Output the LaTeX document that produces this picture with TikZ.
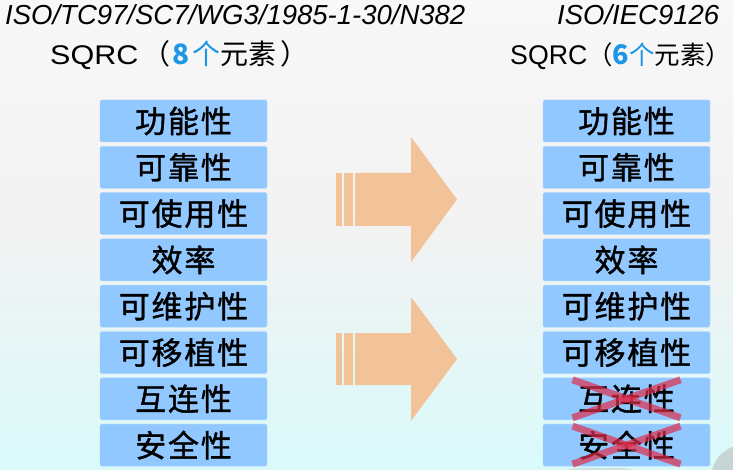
\documentclass[tikz,border=0pt]{standalone}
\usepackage{fontspec}
\setmainfont{Liberation Sans}
\newfontfamily\cjk[LetterSpace=6,FakeBold=1.2]{Noto Sans CJK SC}
\newfontfamily\cjktitle{Noto Sans CJK SC}
\usepackage{graphicx}
\usepackage{xcolor}
\definecolor{bgtop}{RGB}{248,248,248}
\definecolor{bgmid}{RGB}{242,242,242}
\definecolor{bgbot}{RGB}{218,250,250}
\definecolor{boxblue}{RGB}{144,200,255}
\definecolor{boxedge}{RGB}{170,214,255}
\definecolor{arrowfill}{RGB}{242,195,152}
\definecolor{numblue}{RGB}{30,150,230}
\definecolor{crossred}{RGB}{225,45,75}

\begin{document}
\begin{tikzpicture}
[
    x=1pt,y=-1pt,
    mybox/.style={rectangle,rounded corners=1.5pt,minimum width=167pt,minimum height=42pt,inner sep=0pt},
    quality/.style={mybox,draw=boxedge,fill=boxblue,font=\cjk\fontsize{31}{31}\selectfont},
    heading/.style={anchor=base west,inner sep=0pt,font=\fontsize{27.5}{28}\selectfont\itshape},
    count/.style={anchor=base west,inner sep=0pt,font=\fontsize{27}{28}\selectfont},
    cross/.style={crossred,opacity=0.7,line width=7pt},
    blockarrow/.style={fill=arrowfill}
]
\useasboundingbox (0,0) rectangle (733,470);
\shade[top color=bgtop,bottom color=bgbot,middle color=bgmid] (0,0) rectangle (733,470);

% ink hills lower right
\fill[gray!60,opacity=0.5] (712,470) .. controls (714,462) and (719,455) .. (724,452) .. controls (728,449) and (731,447) .. (733,447) -- (733,470) -- cycle;
\fill[gray!50,opacity=0.4] (565,470) .. controls (578,467) and (590,467) .. (600,468.5) .. controls (614,467) and (626,468) .. (634,470) -- cycle;

\node at (5,25) [heading] (oldnorm) {ISO/TC97/SC7/WG3/1985-1-30/N382};
\node at (557,25) [heading] (newnorm) {ISO/IEC9126};
\node at (50,65) [count] (oldcount) {\scalebox{1.13}[1]{SQRC}\hspace{4pt}\cjktitle\fontsize{28}{28}\selectfont（\hspace{2pt}{\color{numblue}\fontsize{28}{28}\selectfont\bfseries\itshape 8}\hspace{3pt}{\color{numblue}个}元素\hspace{4pt}）};
\node at (510,65) [count] (newcount) {\scalebox{0.99}[1]{SQRC}\cjktitle\fontsize{25.5}{26}\selectfont（{\color{numblue}\fontsize{27}{28}\selectfont\bfseries\itshape 6}{\color{numblue}个}元素）};

\node at (183.5,121) [quality] (lfunc) {功能性};
\node at (183.5,167.3) [quality] (lrel) {可靠性};
\node at (183.5,213.6) [quality] (luse) {可使用性};
\node at (183.5,259.9) [quality] (leff) {效率};
\node at (183.5,306.2) [quality] (lmaint) {可维护性};
\node at (183.5,352.5) [quality] (lport) {可移植性};
\node at (183.5,398.8) [quality] (linter) {互连性};
\node at (183.5,445.1) [quality] (lsec) {安全性};

\node at (626.5,121) [quality] (rfunc) {功能性};
\node at (626.5,167.3) [quality] (rrel) {可靠性};
\node at (626.5,213.6) [quality] (ruse) {可使用性};
\node at (626.5,259.9) [quality] (reff) {效率};
\node at (626.5,306.2) [quality] (rmaint) {可维护性};
\node at (626.5,352.5) [quality] (rport) {可移植性};
\node at (626.5,398.8) [quality] (rinter) {互连性};
\node at (626.5,445.1) [quality] (rsec) {安全性};

% block arrows
\fill[blockarrow] (336,173) rectangle (342,226);
\fill[blockarrow] (344,173) rectangle (353,226);
\fill[blockarrow] (355,173) -- (411,173) -- (411,137) -- (457,199.5) -- (411,262) -- (411,226) -- (355,226) -- cycle;
\fill[blockarrow] (336,333) rectangle (342,385);
\fill[blockarrow] (344,333) rectangle (353,385);
\fill[blockarrow] (355,333) -- (411,333) -- (411,297) -- (457,359) -- (411,421) -- (411,385) -- (355,385) -- cycle;

% removed characteristics
\draw[cross] ([shift={(-54,-19)}]rinter.center) -- ([shift={(54,19)}]rinter.center);
\draw[cross] ([shift={(-54,19)}]rinter.center) -- ([shift={(54,-19)}]rinter.center);
\draw[cross] ([shift={(-54,-19)}]rsec.center) -- ([shift={(54,19)}]rsec.center);
\draw[cross] ([shift={(-54,19)}]rsec.center) -- ([shift={(54,-19)}]rsec.center);
\end{tikzpicture}
\end{document}
